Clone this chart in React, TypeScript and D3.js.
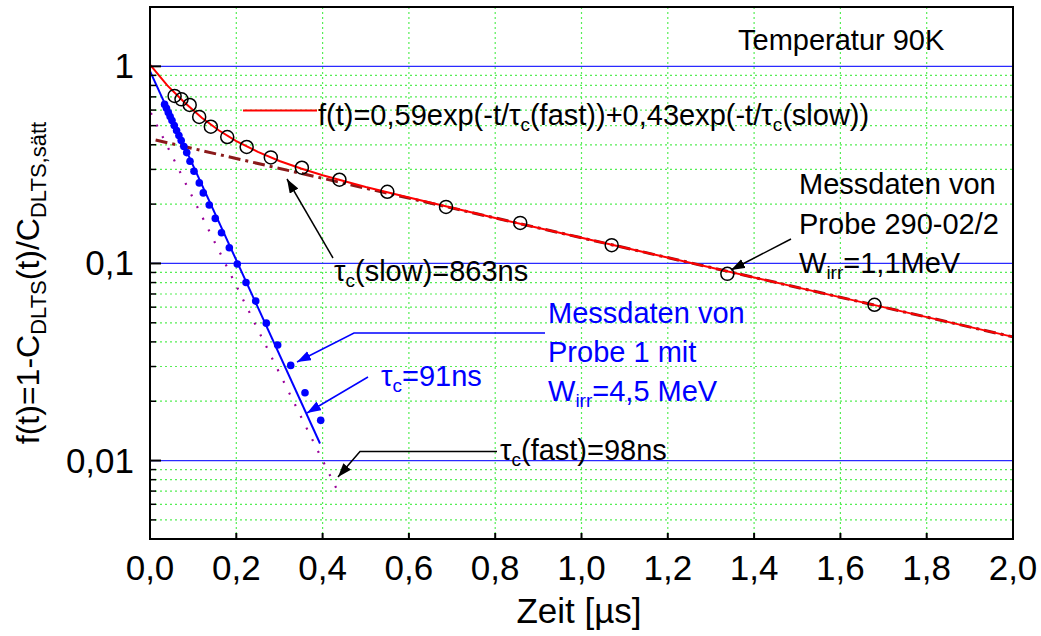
import React from 'react';
import * as d3 from 'd3';

// Probe 290-02/2 (open circles), time in µs
const probeAT = [0.057, 0.073, 0.092, 0.114, 0.141, 0.179, 0.224, 0.28, 0.352, 0.439, 0.55, 0.686, 0.858, 1.07, 1.338, 1.679];
const probeAV = [0.708, 0.68, 0.637, 0.554, 0.494, 0.438, 0.39, 0.345, 0.306, 0.266, 0.231, 0.1935, 0.1606, 0.1238, 0.0886, 0.0617];

// Probe 1 (filled blue dots)
const probeBT = [0.0338, 0.0382, 0.0424, 0.0466, 0.051, 0.0563, 0.0616, 0.067, 0.0723, 0.0786, 0.0851,
  0.0927, 0.102, 0.1143, 0.1235, 0.1374, 0.1513, 0.1657, 0.1838, 0.2023, 0.2225, 0.245, 0.2695, 0.2959, 0.3261, 0.3592, 0.3956];
const probeBV = [0.641, 0.612, 0.583, 0.557, 0.531, 0.501, 0.473, 0.446, 0.42, 0.392, 0.365,
  0.33, 0.2936, 0.2563, 0.228, 0.198, 0.1693, 0.1432, 0.1202, 0.0993, 0.0801, 0.0644, 0.0498, 0.0386, 0.0304, 0.0221, 0.016];

// red fit curve
const fitT = [0, 0.04, 0.08, 0.12, 0.16, 0.2, 0.25, 0.3, 0.35, 0.4, 0.5, 0.6, 0.8, 1.0, 1.5, 2.0];
const fitV = [1.02, 0.8, 0.655, 0.548, 0.4725, 0.4177, 0.368, 0.331, 0.303, 0.2804, 0.2445, 0.2159, 0.17, 0.135, 0.0756, 0.0424];

// slow component (dash-dot), fast component (dotted), blue fit
const slowT = [0.013, 2.0];
const slowV = [0.423, 0.0424];
const fastT = [0.002, 0.438];
const fastV = [0.58, 0.0068];
const blueFitT = [0, 0.394];
const blueFitV = [0.946, 0.0122];

const xTicks = [0, 0.2, 0.4, 0.6, 0.8, 1.0, 1.2, 1.4, 1.6, 1.8, 2.0];
const yMajor = [1, 0.1, 0.01];
const yMajorLabels = ['1', '0,1', '0,01'];

const font = "'Liberation Sans', Arial, Helvetica, sans-serif";

const App = () => {
  const x = d3.scaleLinear().domain([0, 2]).range([150, 1013]);
  const y = d3.scaleLog().domain([0.004, 2]).range([539, 7]);
  const line: any = d3.line<any>().x((d: any) => x(d[0])).y((d: any) => y(d[1]));
  const zip = (a: number[], b: number[]) => a.map((t, i) => [t, b[i]]);

  const minor = y.ticks().filter((v) => v < 0.99 && !yMajor.some((m) => Math.abs(m - v) < 1e-9));

  return (
    <svg width={1041} height={636} style={{ position: 'absolute', left: 0, top: 0, background: '#fff' }} fontFamily={font}>
      <defs>
        <marker id="ahk" markerUnits="userSpaceOnUse" markerWidth={16} markerHeight={12} refX={14} refY={5} orient="auto">
          <path d="M0,0 L14,5 L0,10 z" fill="#000" />
        </marker>
        <marker id="ahb" markerUnits="userSpaceOnUse" markerWidth={16} markerHeight={12} refX={14} refY={5} orient="auto">
          <path d="M0,0 L14,5 L0,10 z" fill="#0000ff" />
        </marker>
      </defs>

      {/* grid */}
      {xTicks.slice(1, -1).map((t) => (
        <line key={'gx' + t} x1={x(t)} x2={x(t)} y1={7} y2={539} stroke="#55ee55" strokeWidth={1.2} strokeDasharray="2,3" />
      ))}
      {minor.map((v) => (
        <line key={'gy' + v} x1={150} x2={1013} y1={y(v)} y2={y(v)} stroke="#55ee55" strokeWidth={1.2} strokeDasharray="2,3" />
      ))}
      {yMajor.map((v) => (
        <line key={'gm' + v} x1={150} x2={1013} y1={y(v)} y2={y(v)} stroke="#2a2aff" strokeWidth={1.3} />
      ))}

      {/* fits */}
      <path d={line(zip(slowT, slowV))} fill="none" stroke="#8b1a1a" strokeWidth={3} strokeDasharray="12,5,3,5" />
      <path d={line(zip(fitT, fitV))} fill="none" stroke="#ff0000" strokeWidth={2} />
      <path d={line(zip(fastT, fastV))} fill="none" stroke="#990099" strokeWidth={2.2} strokeDasharray="2,11" />
      <path d={line(zip(blueFitT, blueFitV))} fill="none" stroke="#0000ff" strokeWidth={2} />

      {/* data */}
      {probeBT.map((t, i) => (
        <circle key={'b' + i} cx={x(t)} cy={y(probeBV[i])} r={3.8} fill="#0000ff" />
      ))}
      {probeAT.map((t, i) => (
        <circle key={'a' + i} cx={x(t)} cy={y(probeAV[i])} r={6.5} fill="none" stroke="#000" strokeWidth={1.5} />
      ))}

      {/* axes frame */}
      <rect x={150} y={7} width={863} height={532} fill="none" stroke="#000" strokeWidth={2} />
      {xTicks.slice(1, -1).map((t) => (
        <line key={'tx' + t} x1={x(t)} x2={x(t)} y1={539} y2={533} stroke="#000" strokeWidth={2} />
      ))}
      {yMajor.map((v) => (
        <line key={'ty' + v} x1={150} x2={161} y1={y(v)} y2={y(v)} stroke="#000" strokeWidth={2} />
      ))}
      {minor.map((v) => (
        <line key={'tm' + v} x1={150} x2={156} y1={y(v)} y2={y(v)} stroke="#000" strokeWidth={1.5} />
      ))}

      {/* tick labels */}
      {xTicks.map((t) => (
        <text key={'lx' + t} x={x(t)} y={580} fontSize={35} textAnchor="middle">
          {t.toFixed(1).replace('.', ',')}
        </text>
      ))}
      {yMajor.map((v, i) => (
        <text key={'ly' + v} x={134} y={y(v) + 12} fontSize={35} textAnchor="end">
          {yMajorLabels[i]}
        </text>
      ))}

      {/* axis titles */}
      <text x={579} y={623} fontSize={35} textAnchor="middle">Zeit [µs]</text>
      <text transform="translate(39,283) rotate(-90)" fontSize={32} textAnchor="middle">
        f(t)=1-C<tspan fontSize={22} dy={7}>DLTS</tspan><tspan dy={-7}>(t)/C</tspan><tspan fontSize={22} dy={7}>DLTS,sätt</tspan>
      </text>

      {/* annotations */}
      <text x={738} y={50} fontSize={29}>Temperatur 90K</text>

      <line x1={243} x2={317} y1={110.5} y2={110.5} stroke="#ff0000" strokeWidth={2} />
      <text x={318} y={125} fontSize={29}>
        f(t)=0,59exp(-t/τ<tspan fontSize={19} dy={6}>c</tspan><tspan dy={-6}>(fast))+0,43exp(-t/τ</tspan><tspan fontSize={19} dy={6}>c</tspan><tspan dy={-6}>(slow))</tspan>
      </text>

      <line x1={333} y1={258} x2={287} y2={179} stroke="#000" strokeWidth={1.5} markerEnd="url(#ahk)" />
      <text x={334} y={281} fontSize={29}>
        τ<tspan fontSize={19} dy={6}>c</tspan><tspan dy={-6}>(slow)=863ns</tspan>
      </text>

      <text x={799} y={194} fontSize={29}>Messdaten von</text>
      <text x={799} y={233.5} fontSize={29}>Probe 290-02/2</text>
      <text x={799} y={273} fontSize={29}>
        W<tspan fontSize={19} dy={6}>irr</tspan><tspan dy={-6}>=1,1MeV</tspan>
      </text>
      <line x1={791} y1={239} x2={731} y2={270} stroke="#000" strokeWidth={1.5} markerEnd="url(#ahk)" />

      <polyline points="545,333 354,333 297,362" fill="none" stroke="#0000ff" strokeWidth={1.5} markerEnd="url(#ahb)" />
      <text x={548} y={322.5} fontSize={29} fill="#0000ff">Messdaten von</text>
      <text x={548} y={361.5} fontSize={29} fill="#0000ff">Probe 1 mit</text>
      <text x={548} y={401} fontSize={29} fill="#0000ff">
        W<tspan fontSize={19} dy={6}>irr</tspan><tspan dy={-6}>=4,5 MeV</tspan>
      </text>

      <line x1={368} y1={377} x2={307} y2={413} stroke="#0000ff" strokeWidth={1.5} markerEnd="url(#ahb)" />
      <text x={381} y={386} fontSize={29} fill="#0000ff">
        τ<tspan fontSize={19} dy={6}>c</tspan><tspan dy={-6}>=91ns</tspan>
      </text>

      <polyline points="497,451.5 360,451.5 338,477" fill="none" stroke="#000" strokeWidth={1.5} markerEnd="url(#ahk)" />
      <text x={500} y={460} fontSize={29}>
        τ<tspan fontSize={19} dy={6}>c</tspan><tspan dy={-6}>(fast)=98ns</tspan>
      </text>
    </svg>
  );
};

export default App;
